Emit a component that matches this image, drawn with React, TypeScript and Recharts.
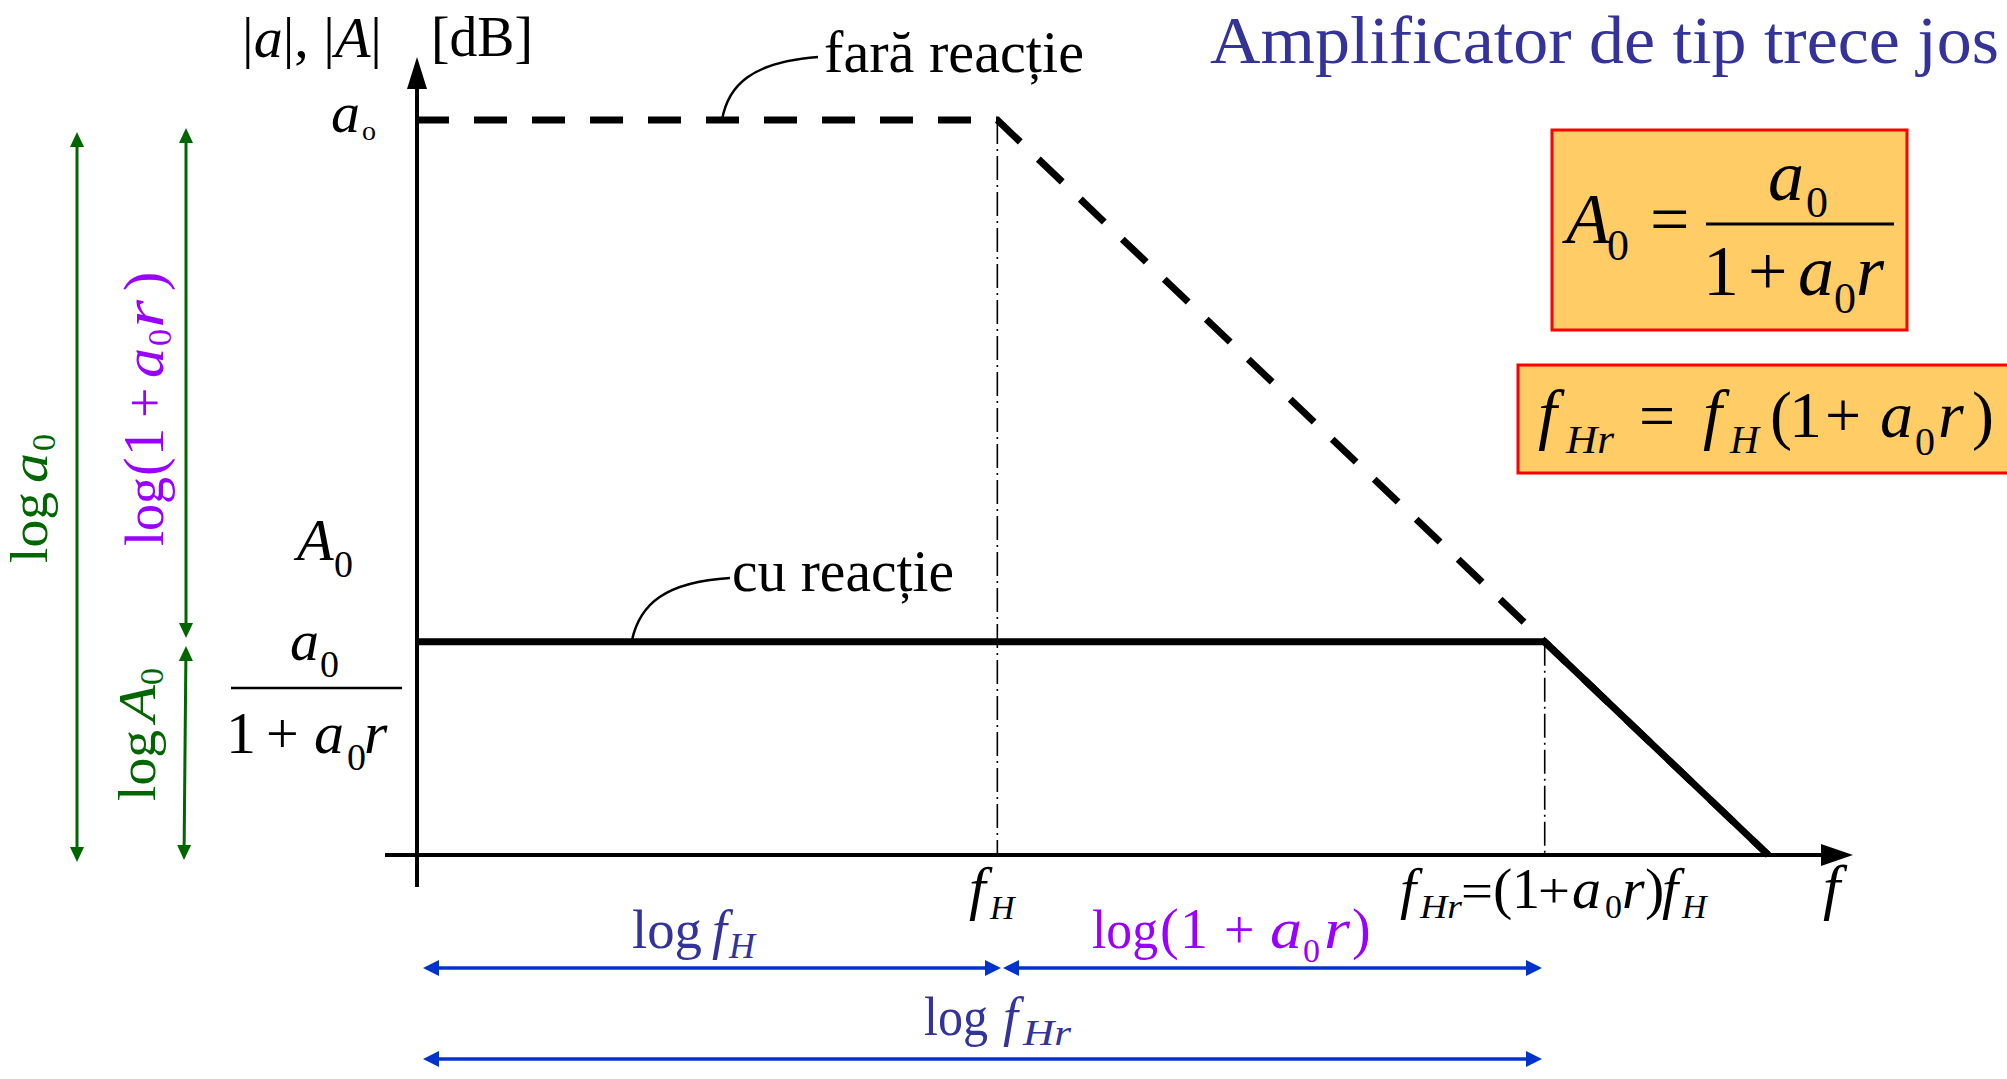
import React from 'react';
import { ComposedChart, Line, XAxis, YAxis, ReferenceLine } from 'recharts';

// x = log10(f) in decades, y = gain in dB
const openLoopLogF = [0, 3.77, 8.77];
const openLoopDb = [100, 100, 0];
const closedLoopLogF = [0, 7.32, 8.77];
const closedLoopDb = [29, 29, 0];
// corner frequencies fH and fHr, with the gain at each corner
const cornerLogF = [3.77, 7.32];
const cornerDb = [100, 29];

const openLoop = openLoopLogF.map((x, i) => ({ x, db: openLoopDb[i] }));
const closedLoop = closedLoopLogF.map((x, i) => ({ x, db: closedLoopDb[i] }));

const W = 2007;
const H = 1079;
const X_DOMAIN: [number, number] = [-2.698, 10.318];
const Y_DOMAIN: [number, number] = [-30.48, 116.33];

const GREEN = '#006600';
const PURPLE = '#9900FF';
const BLUE = '#0033CC';
const NAVY = '#333399';
const FONT = "'Liberation Serif', 'Times New Roman', serif";

const T = ({ x, y, s, i, c, w, children }: any) => (
  <text
    x={x}
    y={y}
    fontSize={s}
    fontStyle={i ? 'italic' : 'normal'}
    fill={c || '#000'}
    fontFamily={FONT}
    textLength={w}
    lengthAdjust={w ? 'spacingAndGlyphs' : undefined}
  >
    {children}
  </text>
);

const head = (tx: number, ty: number, dx: number, dy: number, len: number, half: number) => {
  const bx = tx - dx * len;
  const by = ty - dy * len;
  return `${tx},${ty} ${bx - dy * half},${by + dx * half} ${bx + dy * half},${by - dx * half}`;
};

// double headed dimension arrow
const Dim = ({ x1, y1, x2, y2, c, sw, len, half }: any) => {
  const L = Math.hypot(x2 - x1, y2 - y1);
  const dx = (x2 - x1) / L;
  const dy = (y2 - y1) / L;
  return (
    <g>
      <line x1={x1 + dx * 4} y1={y1 + dy * 4} x2={x2 - dx * 4} y2={y2 - dy * 4} stroke={c} strokeWidth={sw} />
      <polygon points={head(x2, y2, dx, dy, len, half)} fill={c} />
      <polygon points={head(x1, y1, -dx, -dy, len, half)} fill={c} />
    </g>
  );
};

const Overlay = () => (
  <svg width={W} height={H} style={{ position: 'absolute', left: 0, top: 0, pointerEvents: 'none' }}>
    {/* axes */}
    <line x1={417} y1={887} x2={417} y2={80} stroke="#000" strokeWidth={4} />
    <polygon points={head(417, 57, 0, -1, 32, 10)} fill="#000" />
    <line x1={385} y1={855} x2={1830} y2={855} stroke="#000" strokeWidth={4} />
    <polygon points={head(1853, 855, 1, 0, 32, 11)} fill="#000" />

    {/* axis titles */}
    <text x={242} y={57} fontSize={58} fontFamily={FONT} textLength={140} lengthAdjust="spacingAndGlyphs">
      |<tspan fontStyle="italic">a</tspan>|, |<tspan fontStyle="italic">A</tspan>|
    </text>
    <T x={431} y={56} s={58} w={102}>[dB]</T>

    {/* a0 on the y axis */}
    <T x={331} y={132} s={58} i>a</T>
    <T x={362} y={140} s={28}>o</T>

    {/* A0 = a0/(1+a0 r) on the y axis */}
    <T x={297} y={560} s={60} i>A</T>
    <T x={334} y={577} s={38}>0</T>
    <T x={290} y={660} s={58} i>a</T>
    <T x={320} y={677} s={38}>0</T>
    <line x1={231} y1={688} x2={402} y2={688} stroke="#000" strokeWidth={2.5} />
    <T x={226} y={753} s={60}>1</T>
    <T x={266} y={753} s={58}>+</T>
    <T x={314} y={753} s={60} i>a</T>
    <T x={347} y={770} s={38}>0</T>
    <T x={364} y={753} s={60} i>r</T>

    {/* curve labels */}
    <path d="M 722 120 C 728 85, 752 62, 818 57" fill="none" stroke="#000" strokeWidth={2.5} />
    <T x={824} y={72} s={60} w={260}>fară reacție</T>
    <path d="M 632 640 C 640 604, 665 582, 730 578" fill="none" stroke="#000" strokeWidth={2.5} />
    <T x={732} y={591} s={60} w={222}>cu reacție</T>

    {/* frequency labels */}
    <T x={969} y={908} s={60} i>f</T>
    <T x={990} y={919} s={34} i>H</T>
    <T x={1400} y={908} s={58} i>f</T>
    <T x={1420} y={918} s={34} i w={42}>Hr</T>
    <T x={1461} y={908} s={50} w={32}>=</T>
    <T x={1493} y={908} s={58}>(</T>
    <T x={1512} y={908} s={56}>1</T>
    <T x={1538} y={908} s={50} w={32}>+</T>
    <T x={1572} y={908} s={58} i>a</T>
    <T x={1605} y={918} s={34}>0</T>
    <T x={1622} y={908} s={58} i>r</T>
    <T x={1645} y={908} s={58}>)</T>
    <T x={1662} y={908} s={58} i>f</T>
    <T x={1682} y={918} s={34} i>H</T>
    <T x={1823} y={908} s={62} i>f</T>

    {/* title */}
    <T x={1210} y={63} s={68} c={NAVY} w={789}>Amplificator de tip trece jos</T>

    {/* formula boxes */}
    <rect x={1552} y={130} width={355} height={200} fill="#FFCC66" stroke="#FF0000" strokeWidth={3} />
    <T x={1566} y={243} s={72} i>A</T>
    <T x={1607} y={260} s={44}>0</T>
    <T x={1650} y={243} s={70}>=</T>
    <line x1={1706} y1={224} x2={1894} y2={224} stroke="#000" strokeWidth={3} />
    <T x={1768} y={200} s={72} i>a</T>
    <T x={1806} y={217} s={44}>0</T>
    <T x={1703} y={295} s={72}>1</T>
    <T x={1748} y={295} s={70}>+</T>
    <T x={1798} y={295} s={72} i>a</T>
    <T x={1834} y={313} s={44}>0</T>
    <T x={1856} y={295} s={72} i>r</T>

    <rect x={1518} y={365} width={520} height={108} fill="#FFCC66" stroke="#FF0000" strokeWidth={3} />
    <T x={1538} y={437} s={68} i>f</T>
    <T x={1566} y={453} s={40} i w={48}>Hr</T>
    <T x={1639} y={437} s={64}>=</T>
    <T x={1703} y={437} s={68} i>f</T>
    <T x={1730} y={453} s={40} i>H</T>
    <T x={1770} y={437} s={66}>(</T>
    <T x={1789} y={437} s={66}>1</T>
    <T x={1825} y={437} s={64}>+</T>
    <T x={1880} y={437} s={66} i>a</T>
    <T x={1915} y={455} s={40}>0</T>
    <T x={1938} y={437} s={66} i>r</T>
    <T x={1972} y={437} s={66}>)</T>

    {/* vertical dimension arrows */}
    <Dim x1={77} y1={132} x2={77} y2={862} c={GREEN} sw={3} len={15} half={7} />
    <Dim x1={186} y1={128} x2={186} y2={638} c={GREEN} sw={3} len={15} half={7} />
    <Dim x1={186} y1={646} x2={184} y2={860} c={GREEN} sw={3} len={15} half={7} />

    <g transform="translate(47,563) rotate(-90)">
      <T x={0} y={0} s={53} c={GREEN} w={71}>log</T>
      <T x={80} y={0} s={53} c={GREEN} i w={30}>a</T>
      <T x={112} y={8} s={34} c={GREEN}>0</T>
    </g>
    <g transform="translate(163,546) rotate(-90)">
      <T x={0} y={0} s={54} c={PURPLE} w={69}>log</T>
      <T x={70} y={0} s={56} c={PURPLE}>(</T>
      <T x={90} y={0} s={56} c={PURPLE}>1</T>
      <T x={128} y={0} s={54} c={PURPLE}>+</T>
      <T x={168} y={0} s={56} c={PURPLE} i w={30}>a</T>
      <T x={200} y={8} s={34} c={PURPLE}>0</T>
      <T x={218} y={0} s={56} c={PURPLE} i w={28}>r</T>
      <T x={255} y={0} s={58} c={PURPLE}>)</T>
    </g>
    <g transform="translate(155,801) rotate(-90)">
      <T x={0} y={0} s={53} c={GREEN} w={71}>log</T>
      <T x={79} y={0} s={53} c={GREEN} i w={37}>A</T>
      <T x={116} y={8} s={34} c={GREEN}>0</T>
    </g>

    {/* horizontal dimension arrows */}
    <Dim x1={423} y1={968} x2={1001} y2={968} c={BLUE} sw={3.5} len={16} half={8} />
    <Dim x1={1003} y1={968} x2={1542} y2={968} c={BLUE} sw={3.5} len={16} half={8} />
    <Dim x1={423} y1={1059} x2={1542} y2={1059} c={BLUE} sw={3.5} len={16} half={8} />

    <T x={632} y={948} s={54} c={NAVY} w={70}>log</T>
    <T x={712} y={948} s={54} c={NAVY} i>f</T>
    <T x={729} y={958} s={36} c={NAVY} i>H</T>

    <T x={1092} y={948} s={54} c={PURPLE} w={66}>log</T>
    <T x={1160} y={948} s={56} c={PURPLE}>(</T>
    <T x={1180} y={948} s={56} c={PURPLE}>1</T>
    <T x={1224} y={948} s={54} c={PURPLE}>+</T>
    <T x={1270} y={948} s={56} i c={PURPLE} w={32}>a</T>
    <T x={1303} y={962} s={34} c={PURPLE}>0</T>
    <T x={1324} y={948} s={56} c={PURPLE} i w={26}>r</T>
    <T x={1352} y={948} s={56} c={PURPLE}>)</T>

    <T x={924} y={1035} s={54} c={NAVY} w={64}>log</T>
    <T x={1003} y={1035} s={54} c={NAVY} i>f</T>
    <T x={1023} y={1045} s={36} c={NAVY} i w={48}>Hr</T>
  </svg>
);

export default function App() {
  return (
    <div style={{ position: 'absolute', left: 0, top: 0, width: W, height: H, background: '#fff', overflow: 'hidden' }}>
      <ComposedChart width={W} height={H} margin={{ top: 0, right: 0, bottom: 0, left: 0 }}>
        <XAxis type="number" dataKey="x" domain={X_DOMAIN} allowDataOverflow hide />
        <YAxis type="number" domain={Y_DOMAIN} allowDataOverflow hide />
        {cornerLogF.map((x, i) => (
          <ReferenceLine
            key={i}
            segment={[{ x, y: cornerDb[i] }, { x, y: 0 }]}
            stroke="#000"
            strokeWidth={1.6}
            strokeDasharray="24 5 2 5"
          />
        ))}
        <Line
          data={closedLoop}
          dataKey="db"
          type="linear"
          stroke="#000"
          strokeWidth={7}
          dot={false}
          activeDot={false}
          isAnimationActive={false}
        />
        <Line
          data={openLoop}
          dataKey="db"
          type="linear"
          stroke="#000"
          strokeWidth={7}
          strokeDasharray="33 25"
          dot={false}
          activeDot={false}
          isAnimationActive={false}
        />
      </ComposedChart>
      <Overlay />
    </div>
  );
}
